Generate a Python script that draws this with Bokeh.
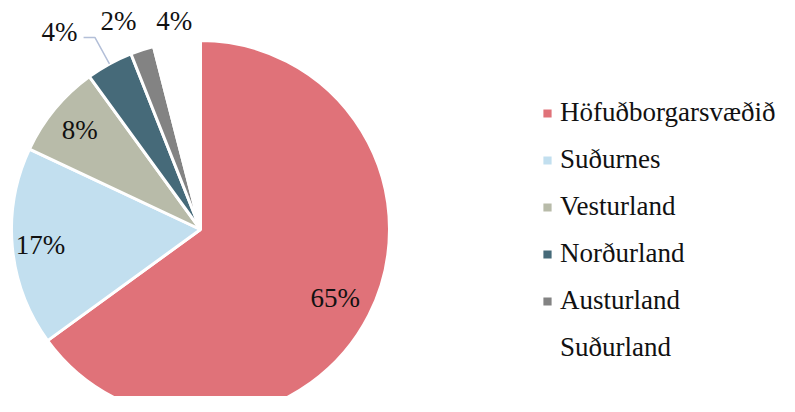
import math
from bokeh.plotting import figure
from bokeh.models import Range1d, Legend, LegendItem, ColumnDataSource
from bokeh.core.properties import value
from bokeh.embed import file_html
from bokeh.resources import INLINE

# ---- data ----
regions = ["Höfuðborgarsvæðið", "Suðurnes", "Vesturland", "Norðurland", "Austurland", "Suðurland"]
shares = [65, 17, 8, 4, 2, 4]
pct_labels = ["65%", "17%", "8%", "4%", "2%", "4%"]
colors = ["#e07279", "#c2dfef", "#b8bba9", "#466a79", "#838383", "#ffffff"]

# ---- layout parameters ----
W, H = 779, 396
CX, CY, R = 200, 167, 189
label_r = [0.80, 0.85, 0.83, 1.284, 1.183, 1.11]
label_dtheta = [0, 0, 0, -6.7, -3.5, 0]
FONT = "Liberation Serif"

total = float(sum(shares))
starts, ends, mids = [], [], []
acc = 0.0
for v in shares:
    f0 = acc / total
    acc += v
    f1 = acc / total
    # clockwise from 12 o'clock -> bokeh angle (ccw from +x)
    starts.append(math.pi / 2 - f1 * 2 * math.pi)
    ends.append(math.pi / 2 - f0 * 2 * math.pi)
    mids.append((f0 + f1) / 2 * 360.0)

src = ColumnDataSource(dict(region=regions, start=starts, end=ends, color=colors))

p = figure(width=W, height=H, output_backend="svg", toolbar_location=None,
           x_range=Range1d(0, W), y_range=Range1d(0, H),
           x_axis_location=None, y_axis_location=None, min_border=0)
p.outline_line_color = None
p.grid.visible = False

wr = p.wedge(x=CX, y=CY, radius=R, radius_units="screen",
             start_angle="start", end_angle="end", fill_color="color",
             line_color="white", line_width=3, source=src)

# percentage labels
lx, ly = [], []
for i in range(len(shares)):
    th = math.radians(mids[i] + label_dtheta[i])
    r = R * label_r[i]
    lx.append(CX + r * math.sin(th))
    ly.append(CY + r * math.cos(th))
p.text(x=lx, y=ly, text=pct_labels, text_align="center", text_baseline="middle",
       text_font=value(FONT), text_font_size="27px", text_color="#111111")

# leader line for Norðurland label
i = 3
th = math.radians(mids[i])
ex, ey = CX + R * math.sin(th), CY + R * math.cos(th)
kx, ky = CX + 1.16 * R * math.sin(th), CY + 1.16 * R * math.cos(th)
p.line(x=[lx[i] + 24, kx, ex], y=[ky, ky, ey], line_color="#b3bfd8", line_width=1.5)

items = [LegendItem(label=regions[k], renderers=[wr], index=k) for k in range(len(regions))]
legend = Legend(items=items, location=(540, 25), orientation="vertical",
                label_text_font=FONT, label_text_font_size="27px", label_text_color="#111111",
                glyph_width=14, glyph_height=14, label_height=47, label_standoff=6,
                spacing=0, padding=0, margin=0,
                border_line_alpha=0, background_fill_alpha=0)
p.add_layout(legend)

open("out.html", "w").write(file_html(p, INLINE))
